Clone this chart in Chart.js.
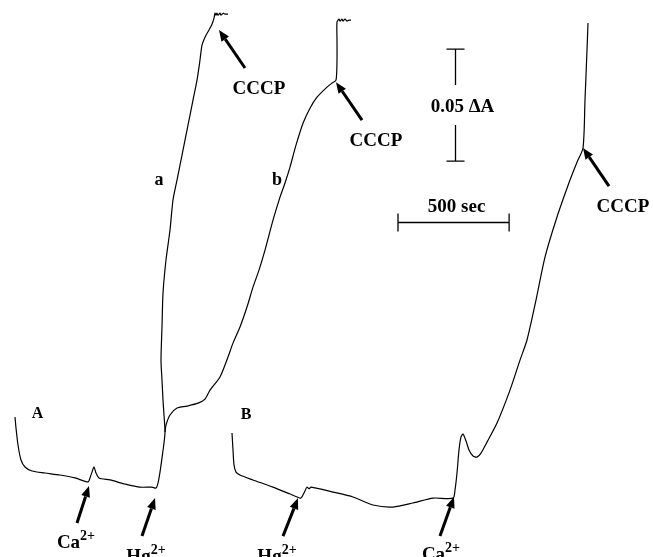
<!DOCTYPE html>
<html>
<head>
<meta charset="utf-8">
<script src="https://cdn.jsdelivr.net/npm/chart.js@4.4.1/dist/chart.umd.min.js"></script>
<style>
  html, body { margin: 0; padding: 0; background: #ffffff; }
  canvas { display: block; }
</style>
</head>
<body>
<canvas id="trace" width="653" height="557"></canvas>
<script>
// Absorbance recordings: time in seconds, absorbance change in ΔA units.

// Panel A, trace a (baseline, Ca2+ pulse, Hg2+ addition, CCCP)
const traceATime = [67.5, 72, 81, 94.5, 112.5, 144, 202.5, 270, 337.5, 396, 405, 414, 423, 432, 445.5, 495, 562.5, 630, 684,
  702, 711, 720, 729, 738, 742.5, 738, 733.5, 729, 724.5, 729, 733.5, 747, 765, 778.5, 796.5, 814.5, 832.5, 850.5, 868.5,
  886.5, 900, 909, 922.5, 940.5, 954, 963, 967.5, 972, 976.5, 981, 990, 994.5, 1003.5, 1012.5, 1026];
const traceAAbs = [0.0625, 0.0576, 0.0500, 0.0433, 0.0402, 0.0384, 0.0375, 0.0366, 0.0353, 0.0335, 0.0353, 0.0379, 0.0402,
  0.0375, 0.0353, 0.0344, 0.0326, 0.0312, 0.0312, 0.0308, 0.0330, 0.0379, 0.0442, 0.0509, 0.0558, 0.0634, 0.0701, 0.0790,
  0.0879, 0.1027, 0.1178, 0.1326, 0.1460, 0.1594, 0.1683, 0.1772, 0.1861, 0.1951, 0.2040, 0.2129, 0.2219, 0.2286, 0.2321,
  0.2353, 0.2379, 0.2406, 0.2428, 0.2419, 0.2428, 0.2419, 0.2428, 0.2419, 0.2428, 0.2424, 0.2424];

// Panel A, trace b (branches off trace a after Hg2+)
const traceBranchTime = [742.5, 747, 765, 796.5, 841.5, 891, 922.5, 945, 990, 1026, 1048.5, 1080, 1111.5, 1138.5, 1165.5,
  1192.5, 1228.5, 1260, 1282.5, 1305, 1332, 1363.5, 1395, 1426.5, 1471.5, 1494, 1512, 1516.5, 1516.5, 1516.5, 1525.5, 1530,
  1539, 1543.5, 1552.5, 1561.5, 1570.5, 1579.5];
const traceBranchAbs = [0.0558, 0.0589, 0.0634, 0.0665, 0.0674, 0.0687, 0.0705, 0.0745, 0.0804, 0.0893, 0.0955, 0.1027,
  0.1116, 0.1205, 0.1281, 0.1370, 0.1504, 0.1607, 0.1670, 0.1741, 0.1839, 0.1937, 0.2004, 0.2053, 0.2098, 0.2116, 0.2129,
  0.2219, 0.2308, 0.2388, 0.2402, 0.2393, 0.2402, 0.2393, 0.2402, 0.2393, 0.2397, 0.2397];

// Panel B (Hg2+ first, then Ca2+, then CCCP)
const tracePanelBTime = [1044, 1048.5, 1053, 1062, 1080, 1138.5, 1228.5, 1305, 1336.5, 1354.5, 1368, 1381.5, 1390.5, 1399.5,
  1498.5, 1588.5, 1678.5, 1768.5, 1858.5, 1948.5, 2038.5, 2047.5, 2056.5, 2065.5, 2074.5, 2083.5, 2097, 2110.5, 2128.5,
  2146.5, 2164.5, 2191.5, 2236.5, 2295, 2340, 2371.5, 2412, 2452.5, 2506.5, 2565, 2596.5, 2623.5, 2632.5, 2641.5, 2646];
const tracePanelBAbs = [0.0554, 0.0478, 0.0411, 0.0379, 0.0366, 0.0344, 0.0312, 0.0281, 0.0268, 0.0263, 0.0286, 0.0312,
  0.0304, 0.0312, 0.0290, 0.0268, 0.0232, 0.0223, 0.0241, 0.0263, 0.0263, 0.0299, 0.0375, 0.0478, 0.0536, 0.0549, 0.0518,
  0.0478, 0.0451, 0.0446, 0.0464, 0.0513, 0.0598, 0.0745, 0.0879, 0.0969, 0.1147, 0.1339, 0.1518, 0.1683, 0.1763, 0.1826,
  0.2040, 0.2263, 0.2384];

// Reagent additions: arrow tip sits on the trace at (time, abs)
const additionIons   = ['Ca', 'Hg', 'Hg', 'Ca'];
const additionTime   = [400.5, 697.5, 1341, 2043];
const additionAbs    = [0.0317, 0.0263, 0.0263, 0.0268];
const cccpTime       = [985.5, 1512, 2623.5];
const cccpAbs        = [0.2353, 0.2120, 0.1826];

// Trace labels
const traceLabels     = ['A', 'B', 'a', 'b'];
const traceLabelTime  = [168.75, 1107, 715.5, 1246.5];
const traceLabelAbs   = [0.0620, 0.0616, 0.1661, 0.1661];

// Calibration bars
const scaleAbsStep = 0.05;   // ΔA
const scaleTimeStep = 500;   // sec
const scaleAbsBar  = { time: 2047.5, abs: 0.1768 };
const scaleTimeBar = { time: 1791, abs: 0.1495 };

const zip = (xs, ys) => xs.map((x, i) => ({ x, y: ys[i] }));
const SERIF = "'Liberation Serif', 'Times New Roman', serif";

function drawArrow(ctx, x0, y0, x1, y1) {
  const ang = Math.atan2(y1 - y0, x1 - x0);
  const L = 11, W = 4.5;
  const bx = x1 - L * Math.cos(ang), by = y1 - L * Math.sin(ang);
  ctx.lineWidth = 3;
  ctx.lineCap = 'butt';
  ctx.beginPath();
  ctx.moveTo(x0, y0);
  ctx.lineTo(bx, by);
  ctx.stroke();
  ctx.beginPath();
  ctx.moveTo(x1, y1);
  ctx.lineTo(bx + W * Math.sin(ang), by - W * Math.cos(ang));
  ctx.lineTo(bx - W * Math.sin(ang), by + W * Math.cos(ang));
  ctx.closePath();
  ctx.fill();
}

function drawIon(ctx, base, sup, cx, baseline) {
  ctx.font = 'bold 19px ' + SERIF;
  const wb = ctx.measureText(base).width;
  ctx.font = 'bold 14px ' + SERIF;
  const ws = ctx.measureText(sup).width;
  const left = cx - (wb + ws) / 2;
  ctx.textAlign = 'left';
  ctx.textBaseline = 'alphabetic';
  ctx.font = 'bold 19px ' + SERIF;
  ctx.fillText(base, left, baseline);
  ctx.font = 'bold 14px ' + SERIF;
  ctx.fillText(sup, left + wb, baseline - 8);
}

const notes = {
  id: 'traceNotes',
  beforeDraw(chart) {
    const { ctx, width, height } = chart;
    ctx.save();
    ctx.fillStyle = '#ffffff';
    ctx.fillRect(0, 0, width, height);
    ctx.restore();
  },
  afterDatasetsDraw(chart) {
    const ctx = chart.ctx;
    const px = t => chart.scales.x.getPixelForValue(t);
    const py = a => chart.scales.y.getPixelForValue(a);
    ctx.save();
    ctx.strokeStyle = '#000';
    ctx.fillStyle = '#000';

    // Ion additions (arrow from below)
    const tailOff = [[-12, 37], [-13, 38], [-15, 38], [-14, 39]];
    const labelOff = [[-1, 25], [4, 26], [-6, 26], [1, 24]];
    additionIons.forEach((ion, i) => {
      const hx = px(additionTime[i]), hy = py(additionAbs[i]);
      const tx = hx + tailOff[i][0], ty = hy + tailOff[i][1];
      drawArrow(ctx, tx, ty, hx, hy);
      drawIon(ctx, ion, '2+', tx + labelOff[i][0], ty + labelOff[i][1]);
    });

    // CCCP additions (arrow from lower right)
    cccpTime.forEach((t, i) => {
      const hx = px(t), hy = py(cccpAbs[i]);
      const tx = hx + 26, ty = hy + 38;
      drawArrow(ctx, tx, ty, hx, hy);
      ctx.font = 'bold 19px ' + SERIF;
      ctx.textAlign = 'center';
      ctx.textBaseline = 'alphabetic';
      ctx.fillText('CCCP', tx + 14, ty + 26);
    });

    // Trace labels
    traceLabels.forEach((lab, i) => {
      ctx.font = (i < 2 ? 'bold 16px ' : 'bold 18px ') + SERIF;
      ctx.textAlign = 'center';
      ctx.textBaseline = 'alphabetic';
      ctx.fillText(lab, px(traceLabelTime[i]), py(traceLabelAbs[i]));
    });

    // Vertical calibration bar: 0.05 ΔA
    ctx.lineWidth = 1.3;
    const vx = Math.round(px(scaleAbsBar.time)) + 0.5;
    const vBot = py(scaleAbsBar.abs), vTop = py(scaleAbsBar.abs + scaleAbsStep);
    const vMid = (vTop + vBot) / 2;
    ctx.beginPath();
    ctx.moveTo(vx - 9, vTop); ctx.lineTo(vx + 9, vTop);
    ctx.moveTo(vx, vTop); ctx.lineTo(vx, vMid - 20);
    ctx.moveTo(vx, vMid + 20); ctx.lineTo(vx, vBot);
    ctx.moveTo(vx - 9, vBot); ctx.lineTo(vx + 9, vBot);
    ctx.stroke();
    ctx.font = 'bold 19px ' + SERIF;
    ctx.textAlign = 'center';
    ctx.textBaseline = 'alphabetic';
    ctx.fillText(scaleAbsStep.toFixed(2) + ' ΔA', vx + 7, vMid + 7);

    // Horizontal calibration bar: 500 sec
    const hy = Math.round(py(scaleTimeBar.abs)) + 0.5;
    const hx0 = px(scaleTimeBar.time), hx1 = px(scaleTimeBar.time + scaleTimeStep);
    ctx.beginPath();
    ctx.moveTo(hx0, hy); ctx.lineTo(hx1, hy);
    ctx.moveTo(hx0, hy - 9); ctx.lineTo(hx0, hy + 9);
    ctx.moveTo(hx1, hy - 9); ctx.lineTo(hx1, hy + 9);
    ctx.stroke();
    ctx.fillText(scaleTimeStep + ' sec', (hx0 + hx1) / 2 + 3, hy - 11);

    ctx.restore();
  }
};

const lineStyle = { borderColor: '#000', borderWidth: 1.2, pointRadius: 0, fill: false, tension: 0.25 };

new Chart(document.getElementById('trace'), {
  type: 'line',
  data: {
    datasets: [
      { label: 'a', data: zip(traceATime, traceAAbs), ...lineStyle },
      { label: 'b', data: zip(traceBranchTime, traceBranchAbs), ...lineStyle },
      { label: 'B', data: zip(tracePanelBTime, tracePanelBAbs), ...lineStyle }
    ]
  },
  options: {
    responsive: false,
    animation: false,
    devicePixelRatio: 1,
    events: [],
    layout: { padding: 0 },
    plugins: { legend: { display: false }, tooltip: { enabled: false } },
    scales: {
      x: { type: 'linear', min: 0, max: 2938.5, display: false },
      y: { type: 'linear', min: 0, max: 0.2487, display: false }
    }
  },
  plugins: [notes]
});
</script>
</body>
</html>
